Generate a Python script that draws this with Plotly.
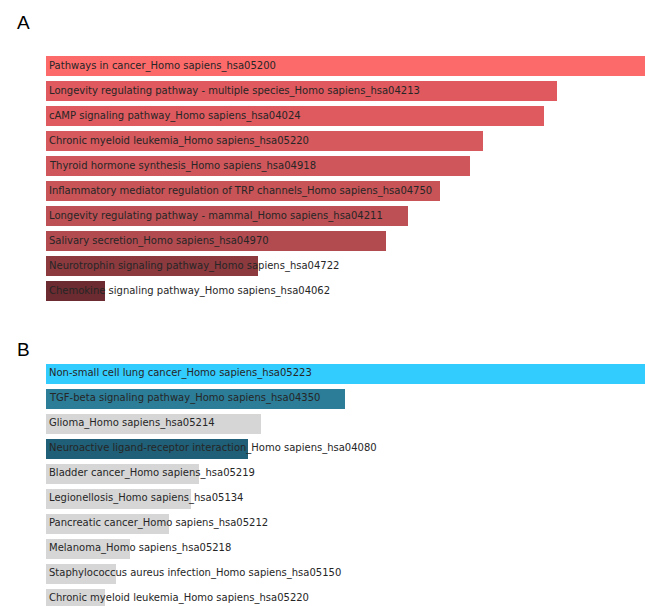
import plotly.graph_objects as go

W, H = 645, 606

# Panel A
a_terms = [
    "Pathways in cancer_Homo sapiens_hsa05200",
    "Longevity regulating pathway - multiple species_Homo sapiens_hsa04213",
    "cAMP signaling pathway_Homo sapiens_hsa04024",
    "Chronic myeloid leukemia_Homo sapiens_hsa05220",
    "Thyroid hormone synthesis_Homo sapiens_hsa04918",
    "Inflammatory mediator regulation of TRP channels_Homo sapiens_hsa04750",
    "Longevity regulating pathway - mammal_Homo sapiens_hsa04211",
    "Salivary secretion_Homo sapiens_hsa04970",
    "Neurotrophin signaling pathway_Homo sapiens_hsa04722",
    "Chemokine signaling pathway_Homo sapiens_hsa04062",
]
a_values = [599, 511, 498, 437, 424, 394, 362, 340, 212, 59]
a_colors = ["#fd6a6a", "#e0595e", "#de5a5f", "#d5595d", "#cf575b", "#c85457",
            "#bd5054", "#b24b50", "#8d3a3f", "#6c2b30"]

# Panel B
b_terms = [
    "Non-small cell lung cancer_Homo sapiens_hsa05223",
    "TGF-beta signaling pathway_Homo sapiens_hsa04350",
    "Glioma_Homo sapiens_hsa05214",
    "Neuroactive ligand-receptor interaction_Homo sapiens_hsa04080",
    "Bladder cancer_Homo sapiens_hsa05219",
    "Legionellosis_Homo sapiens_hsa05134",
    "Pancreatic cancer_Homo sapiens_hsa05212",
    "Melanoma_Homo sapiens_hsa05218",
    "Staphylococcus aureus infection_Homo sapiens_hsa05150",
    "Chronic myeloid leukemia_Homo sapiens_hsa05220",
]
b_values = [599, 299, 215, 202, 153, 145, 123, 84, 70, 59]
b_colors = ["#33ccff", "#2b7d98", "#d6d6d6", "#1f5f77", "#d6d6d6", "#d6d6d6",
            "#d6d6d6", "#d6d6d6", "#d6d6d6", "#d6d6d6"]

panel_labels = ["A", "B"]

FONT = "DejaVu Sans"
TXT = 10

fig = go.Figure()
fig.add_trace(go.Bar(x=a_values, y=a_terms, orientation="h", width=0.8,
                     marker=dict(color=a_colors, line=dict(width=0)),
                     xaxis="x", yaxis="y", hoverinfo="skip", showlegend=False))
fig.add_trace(go.Bar(x=b_values, y=b_terms, orientation="h", width=0.8,
                     marker=dict(color=b_colors, line=dict(width=0)),
                     xaxis="x2", yaxis="y2", hoverinfo="skip", showlegend=False))

annotations = []
for terms, xr, yr in [(a_terms, "x", "y"), (b_terms, "x2", "y2")]:
    for t in terms:
        annotations.append(dict(x=0, y=t, xref=xr, yref=yr, text=t, showarrow=False,
                                xanchor="left", yanchor="middle", xshift=1,
                                font=dict(family=FONT, size=TXT, color="#262626")))

for lab, ypix in zip(panel_labels, [23, 349]):
    annotations.append(dict(x=15 / W, y=1 - ypix / H, xref="paper", yref="paper",
                            text=lab, showarrow=False, xanchor="left", yanchor="middle",
                            font=dict(family="Liberation Sans", size=19, color="#000000")))

x0 = 46 / W
axis_common = dict(showgrid=False, zeroline=False, showticklabels=False, showline=False, ticks="")

fig.update_layout(
    width=W, height=H,
    margin=dict(l=0, r=0, t=0, b=0),
    paper_bgcolor="white", plot_bgcolor="white",
    xaxis=dict(domain=[x0, 1], range=[0, 599], anchor="y", **axis_common),
    yaxis=dict(domain=[1 - 303 / H, 1 - 53 / H], type="category", categoryarray=a_terms,
               range=[9.5, -0.5], anchor="x", **axis_common),
    xaxis2=dict(domain=[x0, 1], range=[0, 599], anchor="y2", **axis_common),
    yaxis2=dict(domain=[0, 1 - 360.8 / H], type="category", categoryarray=b_terms,
                range=[-0.5 + (H - 360.8) / 25, -0.5], anchor="x2", **axis_common),
    annotations=annotations,
    bargap=0,
)

fig.write_html("out.html")
